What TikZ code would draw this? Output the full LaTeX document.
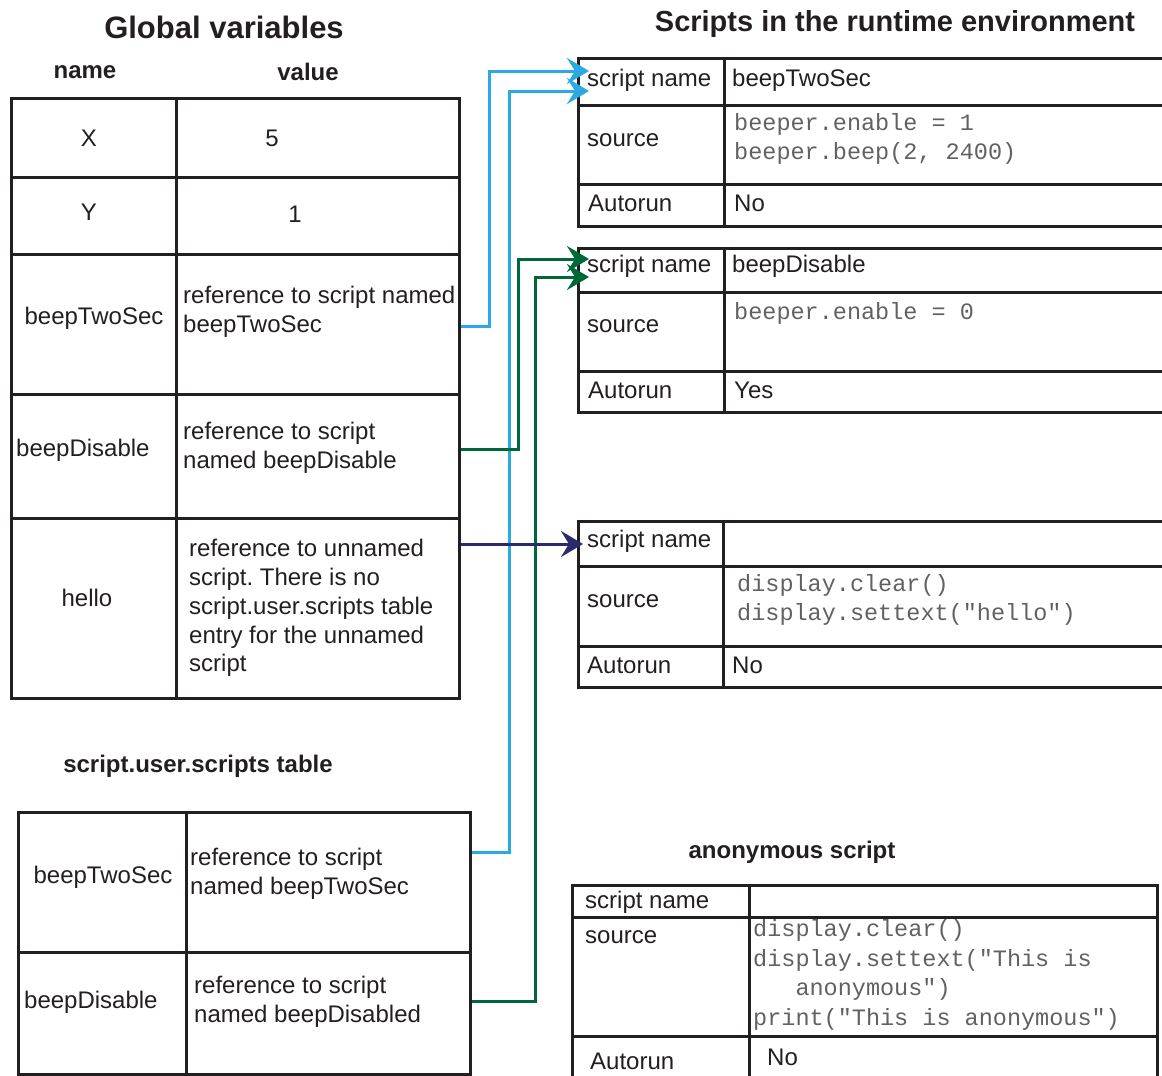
\documentclass[tikz,border=0pt]{standalone}
\usepackage{fontspec}
\setmainfont{Liberation Sans}
\setmonofont{Liberation Mono}
\usetikzlibrary{arrows.meta,positioning}
\definecolor{ink}{HTML}{231F20}
\definecolor{refblue}{HTML}{29ABE2}
\definecolor{refgreen}{HTML}{006838}
\definecolor{refnavy}{HTML}{2B2A6E}
\newcommand{\bodysize}{\fontsize{24}{28.8}\selectfont}
\frenchspacing

\begin{document}
\begin{tikzpicture}[x=1pt, y=-1pt, font=\bodysize, text=ink,
  cellbox/.style 2 args={draw=ink, line width=3.2pt, anchor=north west, inner sep=0pt, minimum width=#1pt, minimum height=#2pt},
  txt/.style={inner sep=0pt, anchor=west, align=left},
  ctrtxt/.style={inner sep=0pt},
  codetxt/.style={inner sep=0pt, anchor=west, align=left, font=\ttfamily\fontsize{23.5}{29.5}\selectfont, text=black!62},
  headtxt/.style={inner sep=0pt, font=\bfseries\bodysize},
  titletxt/.style={inner sep=0pt, font=\bfseries\fontsize{#1}{#1}\selectfont},
  linkto/.style={draw=#1, line width=3pt, -{Stealth[length=22pt, width=26pt, inset=8pt]}}]
\useasboundingbox (0,0) rectangle (1162,1076);

% global variables
\node[titletxt=31] (gtitle) at (224,27) {Global variables};
\node[headtxt] (hname) at (85,72) {name};
\node[headtxt] (hvalue) at (308,72) {value};
\node[cellbox={165}{79}] (gn1) at (10,97) {};
\node[cellbox={283}{79}] (gv1) at (175,97) {};
\node[cellbox={165}{77}] (gn2) at (10,176) {};
\node[cellbox={283}{77}] (gv2) at (175,176) {};
\node[cellbox={165}{140}] (gn3) at (10,253) {};
\node[cellbox={283}{140}] (gv3) at (175,253) {};
\node[cellbox={165}{124}] (gn4) at (10,393) {};
\node[cellbox={283}{124}] (gv4) at (175,393) {};
\node[cellbox={165}{180}] (gn5) at (10,517) {};
\node[cellbox={283}{180}] (gv5) at (175,517) {};
\node[ctrtxt] (tx) at (89,138) {X};
\node[ctrtxt] (tfive) at (272,138) {5};
\node[ctrtxt] (ty) at (89,212) {Y};
\node[ctrtxt] (tone) at (295,214) {1};
\node[ctrtxt] (tbts) at (94,318) {beepTwoSec};
\node[txt] (rbts) at (183,312) {reference to script named\\beepTwoSec};
\node[txt] (tbd) at (16,450) {beepDisable};
\node[txt] (rbd) at (183,448) {reference to script\\named beepDisable};
\node[ctrtxt] (thello) at (87,598) {hello};
\node[txt] (rhello) at (189,608) {reference to unnamed\\script. There is no\\script.user.scripts table\\entry for the unnamed\\script};

% script.user.scripts table
\node[headtxt] (stitle) at (198,766) {script.user.scripts table};
\node[cellbox={168}{140}] (su1n) at (17,811) {};
\node[cellbox={284}{140}] (su1v) at (185,811) {};
\node[cellbox={168}{122}] (su2n) at (17,951) {};
\node[cellbox={284}{122}] (su2v) at (185,951) {};
\node[ctrtxt] (sbts) at (103,877) {beepTwoSec};
\node[txt] (srbts) at (190,874) {reference to script\\named beepTwoSec};
\node[txt] (sbd) at (24,1002) {beepDisable};
\node[txt] (srbd) at (194,1002) {reference to script\\named beepDisabled};

% scripts in the runtime environment
\node[titletxt=29] (rtitle) at (895,24) {Scripts in the runtime environment};
% beepTwoSec
\node[cellbox={146}{47}] (an1) at (577,57) {};
\node[cellbox={460}{47}] (av1) at (723,57) {};
\node[cellbox={146}{79}] (an2) at (577,104) {};
\node[cellbox={460}{79}] (av2) at (723,104) {};
\node[cellbox={146}{42}] (an3) at (577,183) {};
\node[cellbox={460}{42}] (av3) at (723,183) {};
\node[txt] at (587,80) {script name};
\node[txt] at (732,80) {beepTwoSec};
\node[txt] at (587,140) {source};
\node[codetxt] at (734,139) {beeper.enable = 1\\beeper.beep(2, 2400)};
\node[txt] at (588,203) {Autorun};
\node[txt] at (734,203) {No};
% beepDisable
\node[cellbox={146}{44}] (bn1) at (577,247) {};
\node[cellbox={460}{44}] (bv1) at (723,247) {};
\node[cellbox={146}{79}] (bn2) at (577,291) {};
\node[cellbox={460}{79}] (bv2) at (723,291) {};
\node[cellbox={146}{41}] (bn3) at (577,370) {};
\node[cellbox={460}{41}] (bv3) at (723,370) {};
\node[txt] at (587,266) {script name};
\node[txt] at (732,266) {beepDisable};
\node[txt] at (587,326) {source};
\node[codetxt] at (734,313) {beeper.enable = 0};
\node[txt] at (588,390) {Autorun};
\node[txt] at (734,390) {Yes};
% hello
\node[cellbox={145}{45}] (cn1) at (577,520) {};
\node[cellbox={461}{45}] (cv1) at (722,520) {};
\node[cellbox={145}{80}] (cn2) at (577,565) {};
\node[cellbox={461}{80}] (cv2) at (722,565) {};
\node[cellbox={145}{41}] (cn3) at (577,645) {};
\node[cellbox={461}{41}] (cv3) at (722,645) {};
\node[txt] at (587,541) {script name};
\node[txt] at (587,601) {source};
\node[codetxt] at (737,600) {display.clear()\\display.settext("hello")};
\node[txt] at (587,665) {Autorun};
\node[txt] at (732,665) {No};

% anonymous script
\node[headtxt] (dtitle) at (792,852) {anonymous script};
\node[cellbox={177}{32}] (dn1) at (571,884) {};
\node[cellbox={408}{32}] (dv1) at (748,884) {};
\node[cellbox={177}{119}] (dn2) at (571,916) {};
\node[cellbox={408}{119}] (dv2) at (748,916) {};
\node[cellbox={177}{60}] (dn3) at (571,1035) {};
\node[cellbox={408}{60}] (dv3) at (748,1035) {};
\node[txt] at (585,902) {script name};
\node[txt] at (585,937) {source};
\node[codetxt] at (753,975) {display.clear()\\display.settext("This is\\\ \ \ anonymous")\\print("This is anonymous")};
\node[txt] at (590,1061) {Autorun};
\node[txt] at (767,1057) {No};

% references
\coordinate (inA1) at (589,71);
\coordinate (inA2) at (589,91);
\coordinate (inB1) at (589,259);
\coordinate (inB2) at (589,277);
\coordinate (inC) at (583,544);
\draw[linkto=refblue] ([yshift=-2pt]gv3.east) -- ++(28,0) |- (inA1);
\draw[linkto=refblue] ([yshift=30pt]su1v.east) -- ++(37,0) |- (inA2);
\draw[linkto=refgreen] ([yshift=7pt]gv4.east) -- ++(57,0) |- (inB1);
\draw[linkto=refgreen] ([yshift=12pt]su2v.east) -- ++(63,0) |- (inB2);
\draw[linkto=refnavy] (gv5.east |- inC) -- (inC);
\end{tikzpicture}
\end{document}
